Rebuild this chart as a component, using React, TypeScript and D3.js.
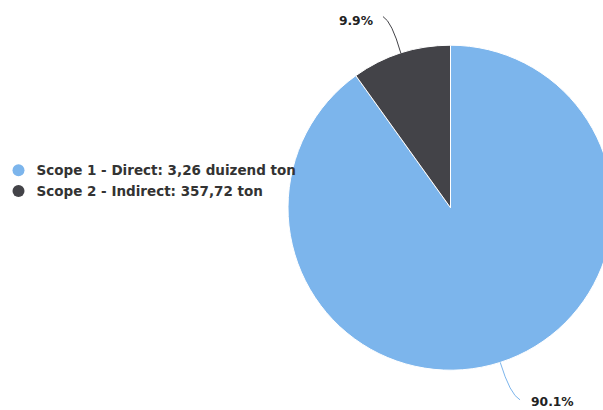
import React, { useEffect, useRef } from 'react';
import * as d3 from 'd3';

const categories = ['Scope 1 - Direct', 'Scope 2 - Indirect'];
const shares = [90.1, 9.9];
const amounts = ['3,26 duizend ton', '357,72 ton'];
const percentLabels = ['90.1%', '9.9%'];
const colors = ['#7cb5ec', '#434348'];

const width = 603;
const height = 410;

const App: React.FC = () => {
  const svgRef = useRef<SVGSVGElement>(null);

  useEffect(() => {
    if (!svgRef.current) return;
    const svg = d3.select(svgRef.current);
    svg.selectAll('*').remove();

    const cx = 450.5;
    const cy = 207.7;
    const radius = 162.5;

    const data = categories.map((name, i) => ({
      name,
      value: shares[i],
      amount: amounts[i],
      label: percentLabels[i],
      color: colors[i],
    }));

    const pie = d3.pie<typeof data[number]>()
      .sort(null)
      .value(d => d.value)
      .startAngle(0)
      .endAngle(2 * Math.PI);

    const arcs = pie(data);
    const arc = d3.arc<d3.PieArcDatum<typeof data[number]>>()
      .innerRadius(0)
      .outerRadius(radius);

    const g = svg.append('g').attr('transform', `translate(${cx},${cy})`);

    g.selectAll('path.slice')
      .data(arcs)
      .enter()
      .append('path')
      .attr('class', 'slice')
      .attr('d', arc)
      .attr('fill', d => d.data.color)
      .attr('stroke', '#ffffff')
      .attr('stroke-width', 1)
      .attr('stroke-linejoin', 'round');

    // point on a circle of radius r at the slice's middle angle
    const polar = (a: number, r: number) => [Math.sin(a) * r, -Math.cos(a) * r];

    arcs.forEach(d => {
      const mid = (d.startAngle + d.endAngle) / 2;
      const right = Math.sin(mid) > 0;
      const lower = Math.cos(mid) < 0;
      const [ex, ey] = polar(mid, radius);
      const [ox, oy] = polar(mid, radius + 32);
      const labelY = lower ? oy + 9 : oy - 2;
      const lx = right ? ox + 10 : ox - 8;
      const ly = lower ? labelY - 2 : labelY - 4;
      const ctrlX = lx + (ex - lx) * 0.5;
      const ctrlY = ly + (ey - ly) * 0.14;

      g.append('path')
        .attr('d', `M${ex},${ey}Q${ctrlX},${ctrlY} ${lx},${ly}`)
        .attr('fill', 'none')
        .attr('stroke', d.data.color)
        .attr('stroke-width', 1);

      g.append('text')
        .attr('x', right ? lx + 11 : lx - 10)
        .attr('y', labelY)
        .attr('dy', '0.35em')
        .attr('text-anchor', right ? 'start' : 'end')
        .attr('font-family', '"DejaVu Sans", sans-serif')
        .attr('font-size', '12.3px')
        .attr('font-weight', 'bold')
        .attr('fill', '#222222')
        .text(d.data.label);
    });

    // legend
    const legend = svg.append('g');
    const rowY = d3.scaleLinear().domain([0, 1]).range([170.3, 191]);
    data.forEach((d, i) => {
      legend.append('circle')
        .attr('cx', 18.5)
        .attr('cy', rowY(i))
        .attr('r', 6)
        .attr('fill', d.color);
      legend.append('text')
        .attr('x', 36.5)
        .attr('y', rowY(i))
        .attr('dy', '0.35em')
        .attr('font-family', '"DejaVu Sans", sans-serif')
        .attr('font-size', '13.5px')
        .attr('font-weight', 'bold')
        .attr('fill', '#333333')
        .text(`${d.name}: ${d.amount}`);
    });
  }, []);

  return (
    <svg
      ref={svgRef}
      width={width}
      height={height}
      style={{ position: 'absolute', left: 0, top: 0, background: '#ffffff' }}
    />
  );
};

export default App;
